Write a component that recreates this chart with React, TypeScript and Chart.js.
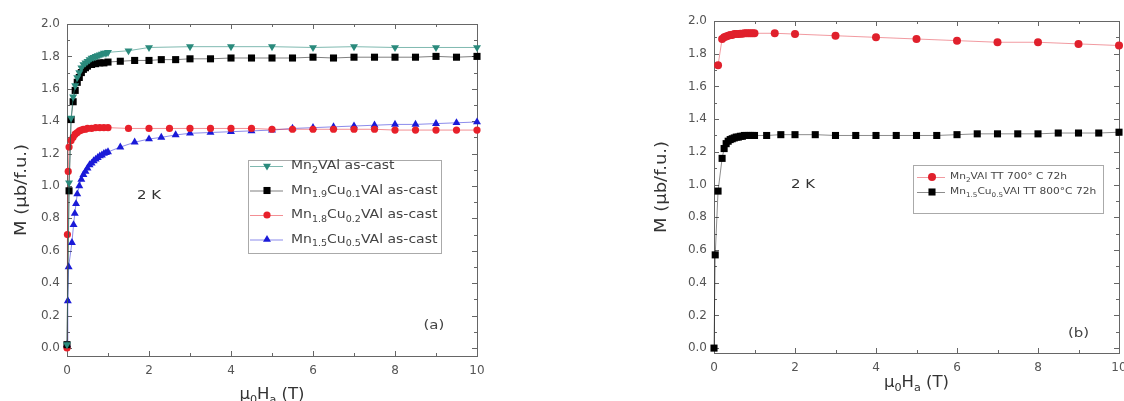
import React, { useEffect, useRef } from "react";
import { Chart, registerables } from "chart.js";
Chart.register(...registerables);

// ---------- Data: panel (a), as-cast ----------
const A_X_MN2 = [0, 0.05, 0.1, 0.15, 0.2, 0.25, 0.3, 0.35, 0.4, 0.45, 0.5, 0.55, 0.6, 0.65, 0.7, 0.75, 0.8, 0.85, 0.9, 0.95, 1.0, 1.5, 2, 3, 4, 5, 6, 7, 8, 9, 10];
const A_Y_MN2 = [0.02, 1.02, 1.42, 1.55, 1.62, 1.67, 1.70, 1.73, 1.75, 1.76, 1.77, 1.78, 1.79, 1.795, 1.80, 1.805, 1.81, 1.815, 1.82, 1.82, 1.825, 1.835, 1.855, 1.86, 1.86, 1.86, 1.855, 1.86, 1.855, 1.855, 1.855];

const A_X_CU01 = [0, 0.05, 0.1, 0.15, 0.2, 0.25, 0.3, 0.35, 0.4, 0.45, 0.5, 0.6, 0.7, 0.8, 0.9, 1.0, 1.3, 1.65, 2, 2.3, 2.65, 3, 3.5, 4, 4.5, 5, 5.5, 6, 6.5, 7, 7.5, 8, 8.5, 9, 9.5, 10];
const A_Y_CU01 = [0.02, 0.97, 1.41, 1.52, 1.59, 1.64, 1.67, 1.70, 1.72, 1.73, 1.74, 1.75, 1.755, 1.76, 1.76, 1.765, 1.77, 1.775, 1.775, 1.78, 1.78, 1.785, 1.785, 1.79, 1.79, 1.79, 1.79, 1.795, 1.79, 1.795, 1.795, 1.795, 1.795, 1.80, 1.795, 1.80];

const A_X_CU02 = [0, 0.01, 0.03, 0.05, 0.1, 0.15, 0.2, 0.25, 0.3, 0.35, 0.4, 0.45, 0.5, 0.6, 0.7, 0.8, 0.9, 1.0, 1.5, 2, 2.5, 3, 3.5, 4, 4.5, 5, 5.5, 6, 6.5, 7, 7.5, 8, 8.5, 9, 9.5, 10];
const A_Y_CU02 = [0.0, 0.70, 1.09, 1.24, 1.28, 1.30, 1.32, 1.33, 1.34, 1.345, 1.35, 1.35, 1.355, 1.355, 1.36, 1.36, 1.36, 1.36, 1.355, 1.355, 1.355, 1.355, 1.355, 1.355, 1.355, 1.35, 1.35, 1.35, 1.35, 1.35, 1.35, 1.345, 1.345, 1.345, 1.345, 1.345];

const A_X_CU05 = [0, 0.02, 0.04, 0.12, 0.16, 0.19, 0.22, 0.25, 0.3, 0.35, 0.4, 0.45, 0.5, 0.55, 0.6, 0.65, 0.7, 0.75, 0.8, 0.85, 0.9, 0.95, 1.0, 1.3, 1.65, 2, 2.3, 2.65, 3, 3.5, 4, 4.5, 5, 5.5, 6, 6.5, 7, 7.5, 8, 8.5, 9, 9.5, 10];
const A_Y_CU05 = [0.02, 0.29, 0.50, 0.65, 0.76, 0.83, 0.89, 0.95, 1.0, 1.04, 1.07, 1.09, 1.11, 1.13, 1.14, 1.155, 1.165, 1.175, 1.185, 1.19, 1.20, 1.205, 1.21, 1.24, 1.27, 1.29, 1.30, 1.315, 1.325, 1.33, 1.335, 1.34, 1.345, 1.355, 1.36, 1.365, 1.37, 1.375, 1.38, 1.38, 1.385, 1.39, 1.395];

// ---------- Data: panel (b), heat treated ----------
const B_X_MN2 = [0.1, 0.2, 0.25, 0.3, 0.35, 0.4, 0.45, 0.5, 0.55, 0.6, 0.65, 0.7, 0.75, 0.8, 0.85, 0.9, 0.95, 1.0, 1.5, 2, 3, 4, 5, 6, 7, 8, 9, 10];
const B_Y_MN2 = [1.73, 1.89, 1.90, 1.905, 1.91, 1.915, 1.915, 1.92, 1.92, 1.92, 1.922, 1.922, 1.925, 1.925, 1.925, 1.925, 1.925, 1.925, 1.925, 1.92, 1.91, 1.90, 1.89, 1.88, 1.87, 1.87, 1.86, 1.85];

const B_X_CU05 = [0, 0.03, 0.1, 0.2, 0.25, 0.3, 0.35, 0.4, 0.45, 0.5, 0.55, 0.6, 0.65, 0.7, 0.75, 0.8, 0.85, 0.9, 0.95, 1.0, 1.3, 1.65, 2, 2.5, 3, 3.5, 4, 4.5, 5, 5.5, 6, 6.5, 7, 7.5, 8, 8.5, 9, 9.5, 10];
const B_Y_CU05 = [0.0, 0.57, 0.96, 1.16, 1.22, 1.25, 1.265, 1.275, 1.28, 1.285, 1.29, 1.29, 1.295, 1.295, 1.3, 1.3, 1.3, 1.3, 1.3, 1.3, 1.3, 1.305, 1.305, 1.305, 1.30, 1.30, 1.30, 1.30, 1.30, 1.30, 1.305, 1.31, 1.31, 1.31, 1.31, 1.315, 1.315, 1.315, 1.32];

// ---------- Ticks & labels ----------
const X_TICKS = [0, 2, 4, 6, 8, 10];
const X_MINOR = [1, 3, 5, 7, 9];
const Y_TICKS = [0, 0.2, 0.4, 0.6, 0.8, 1.0, 1.2, 1.4, 1.6, 1.8, 2.0];
const Y_MINOR = [0.1, 0.3, 0.5, 0.7, 0.9, 1.1, 1.3, 1.5, 1.7, 1.9];

const A_LABELS = ["Mn_{2}VAl as-cast", "Mn_{1.9}Cu_{0.1}VAl as-cast", "Mn_{1.8}Cu_{0.2}VAl as-cast", "Mn_{1.5}Cu_{0.5}VAl as-cast"];
const B_LABELS = ["Mn_{2}VAl TT 700° C 72h", "Mn_{1.5}Cu_{0.5}VAl TT 800°C 72h"];
const Y_TITLE = "M (μb/f.u.)";
const X_TITLE = "μ_{0}H_{a} (T)";
const TEMP_TEXT = "2 K";

const FONT = "'DejaVu Sans', 'Liberation Sans', sans-serif";

type Seg = { t: string; sub: boolean };
function parseRich(s: string): Seg[] {
  const out: Seg[] = [];
  const re = /_\{([^}]*)\}/g;
  let last = 0;
  let m: RegExpExecArray | null;
  while ((m = re.exec(s))) {
    if (m.index > last) out.push({ t: s.slice(last, m.index), sub: false });
    out.push({ t: m[1], sub: true });
    last = re.lastIndex;
  }
  if (last < s.length) out.push({ t: s.slice(last), sub: false });
  return out;
}

function drawRich(ctx: CanvasRenderingContext2D, s: string, x: number, y: number, size: number, align: "left" | "center", color: string, sx = 1) {
  const segs = parseRich(s);
  const subSize = size * 0.68;
  let total = 0;
  const widths = segs.map((g) => {
    ctx.font = `${g.sub ? subSize : size}px ${FONT}`;
    const w = ctx.measureText(g.t).width;
    total += w;
    return w;
  });
  ctx.save();
  ctx.translate(x, y);
  ctx.scale(sx, 1);
  let cx = align === "center" ? -total / 2 : 0;
  ctx.fillStyle = color;
  ctx.textBaseline = "middle";
  ctx.textAlign = "left";
  segs.forEach((g, i) => {
    ctx.font = `${g.sub ? subSize : size}px ${FONT}`;
    ctx.fillText(g.t, cx, g.sub ? size * 0.38 : 0);
    cx += widths[i];
  });
  ctx.restore();
}

function drawMarker(ctx: CanvasRenderingContext2D, style: string, x: number, y: number, r: number, color: string, rotation = 0) {
  ctx.save();
  ctx.fillStyle = color;
  ctx.beginPath();
  if (style === "circle") {
    ctx.arc(x, y, r, 0, Math.PI * 2);
  } else if (style === "rect") {
    const s = r * Math.SQRT1_2;
    ctx.rect(x - s, y - s, 2 * s, 2 * s);
  } else {
    let rad = (rotation * Math.PI) / 180;
    ctx.moveTo(x + Math.sin(rad) * r, y - Math.cos(rad) * r);
    rad += (2 * Math.PI) / 3;
    ctx.lineTo(x + Math.sin(rad) * r, y - Math.cos(rad) * r);
    rad += (2 * Math.PI) / 3;
    ctx.lineTo(x + Math.sin(rad) * r, y - Math.cos(rad) * r);
    ctx.closePath();
  }
  ctx.fill();
  ctx.restore();
}

type SeriesDef = { label: string; xs: number[]; ys: number[]; color: string; line: string; style: string; radius: number; rotation?: number };

type PanelCfg = {
  left: number;
  width: number;
  areaLeft: number;
  areaRight: number;
  areaTop: number;
  areaBottom: number;
  yMin: number;
  series: SeriesDef[];
  legend: { x: number; y: number; w: number; h: number; first: number; step: number; lineX0: number; lineX1: number; markX: number; textX: number; size: number; sx: number };
  tempPos: [number, number];
  tagPos: [number, number];
  tag: string;
  yTitleX: number;
  xTitleY: number;
};

function makeDeco(cfg: PanelCfg) {
  return {
    id: "deco",
    beforeDatasetsDraw(chart: any) {
      const ctx: CanvasRenderingContext2D = chart.ctx;
      const { left, right, top, bottom } = chart.chartArea;
      const xs = chart.scales.x;
      const ys = chart.scales.y;
      ctx.save();
      ctx.strokeStyle = "#666";
      ctx.lineWidth = 1;
      ctx.strokeRect(Math.round(left) + 0.5, Math.round(top) + 0.5, Math.round(right - left), Math.round(bottom - top));
      ctx.beginPath();
      const xt = (v: number, len: number) => {
        const p = Math.round(xs.getPixelForValue(v)) + 0.5;
        ctx.moveTo(p, bottom);
        ctx.lineTo(p, bottom - len);
        ctx.moveTo(p, top);
        ctx.lineTo(p, top + len);
      };
      const yt = (v: number, len: number) => {
        const p = Math.round(ys.getPixelForValue(v)) + 0.5;
        ctx.moveTo(left, p);
        ctx.lineTo(left + len, p);
        ctx.moveTo(right, p);
        ctx.lineTo(right - len, p);
      };
      X_TICKS.forEach((v) => xt(v, 5));
      X_MINOR.forEach((v) => xt(v, 3));
      Y_TICKS.forEach((v) => yt(v, 5));
      Y_MINOR.forEach((v) => yt(v, 3));
      ctx.stroke();
      ctx.restore();
    },
    afterDraw(chart: any) {
      const ctx: CanvasRenderingContext2D = chart.ctx;
      const { left, right, top, bottom } = chart.chartArea;
      const xs = chart.scales.x;
      const ys = chart.scales.y;
      // Legend
      const L = cfg.legend;
      ctx.save();
      ctx.strokeStyle = "#aaa";
      ctx.lineWidth = 1;
      ctx.strokeRect(L.x + 0.5, L.y + 0.5, L.w, L.h);
      cfg.series.forEach((s, i) => {
        const y = L.y + L.first + i * L.step;
        ctx.strokeStyle = s.line;
        ctx.beginPath();
        ctx.moveTo(L.x + L.lineX0, y + 0.5);
        ctx.lineTo(L.x + L.lineX1, y + 0.5);
        ctx.stroke();
        drawMarker(ctx, s.style, L.x + L.markX, y, s.radius, s.color, s.rotation || 0);
        drawRich(ctx, s.label, L.x + L.textX, y, L.size, "left", "#444", L.sx);
      });
      ctx.restore();
      // Annotations
      drawRich(ctx, TEMP_TEXT, xs.getPixelForValue(cfg.tempPos[0]), ys.getPixelForValue(cfg.tempPos[1]), 13, "center", "#333", 1.15);
      drawRich(ctx, cfg.tag, xs.getPixelForValue(cfg.tagPos[0]), ys.getPixelForValue(cfg.tagPos[1]), 13, "center", "#444", 1.15);
      // Axis titles
      drawRich(ctx, X_TITLE, (left + right) / 2, cfg.xTitleY, 15, "center", "#333", 1.1);
      ctx.save();
      ctx.translate(cfg.yTitleX, (top + bottom) / 2);
      ctx.rotate(-Math.PI / 2);
      drawRich(ctx, Y_TITLE, 0, 0, 15, "center", "#333", 1.2);
      ctx.restore();
    },
  };
}

function Panel({ cfg }: { cfg: PanelCfg }) {
  const ref = useRef<HTMLCanvasElement | null>(null);
  useEffect(() => {
    if (!ref.current) return;
    const H = 401;
    const chart = new Chart(ref.current, {
      type: "line",
      data: {
        datasets: cfg.series.map((s) => ({
          label: s.label,
          data: s.xs.map((x, i) => ({ x, y: s.ys[i] })),
          borderColor: s.line,
          backgroundColor: s.color,
          pointBackgroundColor: s.color,
          pointBorderColor: s.color,
          pointBorderWidth: 0,
          borderWidth: 1,
          pointStyle: s.style as any,
          pointRotation: s.rotation || 0,
          pointRadius: s.radius,
          tension: 0,
          clip: false as any,
        })),
      },
      options: {
        responsive: false,
        animation: false,
        events: [],
        layout: { padding: { left: 0, top: cfg.areaTop, right: cfg.width - cfg.areaRight, bottom: 0 } },
        plugins: { legend: { display: false }, tooltip: { enabled: false }, title: { display: false } },
        scales: {
          x: {
            type: "linear",
            min: 0,
            max: 10,
            grid: { display: false, drawTicks: false },
            border: { display: false },
            ticks: { color: "#555", font: { family: FONT, size: 12 }, padding: 8, maxRotation: 0, autoSkip: false, callback: (v: any) => String(v) },
            afterBuildTicks: (s: any) => {
              s.ticks = X_TICKS.map((v) => ({ value: v }));
            },
            afterFit: (s: any) => {
              s.height = H - cfg.areaBottom;
              s.paddingLeft = 0;
              s.paddingRight = 0;
            },
          },
          y: {
            type: "linear",
            min: cfg.yMin,
            max: 2.0,
            grid: { display: false, drawTicks: false },
            border: { display: false },
            ticks: { color: "#555", font: { family: FONT, size: 12 }, padding: 7, autoSkip: false, callback: (v: any) => Number(v).toFixed(1) },
            afterBuildTicks: (s: any) => {
              s.ticks = Y_TICKS.map((v) => ({ value: v }));
            },
            afterFit: (s: any) => {
              s.width = cfg.areaLeft;
              s.paddingTop = 0;
              s.paddingBottom = 0;
            },
          },
        },
      },
      plugins: [makeDeco(cfg)],
    } as any);
    return () => chart.destroy();
  }, [cfg]);
  return (
    <canvas
      ref={ref}
      width={cfg.width}
      height={401}
      style={{ position: "absolute", left: cfg.left, top: 0, width: cfg.width, height: 401, display: "block" }}
    />
  );
}

const PANEL_A: PanelCfg = {
  left: 0,
  width: 560,
  areaLeft: 67,
  areaRight: 477,
  areaTop: 24,
  areaBottom: 356,
  yMin: -0.05,
  series: [
    { label: A_LABELS[0], xs: A_X_MN2, ys: A_Y_MN2, color: "#2a8a7c", line: "rgba(42,138,124,0.6)", style: "triangle", radius: 4.6, rotation: 180 },
    { label: A_LABELS[1], xs: A_X_CU01, ys: A_Y_CU01, color: "#000000", line: "rgba(0,0,0,0.5)", style: "rect", radius: 5 },
    { label: A_LABELS[2], xs: A_X_CU02, ys: A_Y_CU02, color: "#e8202a", line: "rgba(232,32,42,0.5)", style: "circle", radius: 3.6 },
    { label: A_LABELS[3], xs: A_X_CU05, ys: A_Y_CU05, color: "#1a1ad8", line: "rgba(26,26,216,0.5)", style: "triangle", radius: 4.6 },
  ],
  legend: { x: 248, y: 160, w: 193, h: 93, first: 6, step: 24.5, lineX0: 2, lineX1: 35, markX: 19, textX: 43, size: 12.5, sx: 1.12 },
  tempPos: [2.0, 0.94],
  tagPos: [8.95, 0.14],
  tag: "(a)",
  yTitleX: 22,
  xTitleY: 395,
};

const PANEL_B: PanelCfg = {
  left: 560,
  width: 564,
  areaLeft: 154,
  areaRight: 560,
  areaTop: 21,
  areaBottom: 353,
  yMin: -0.03,
  series: [
    { label: B_LABELS[0], xs: B_X_MN2, ys: B_Y_MN2, color: "#e0202c", line: "rgba(224,32,44,0.45)", style: "circle", radius: 4 },
    { label: B_LABELS[1], xs: B_X_CU05, ys: B_Y_CU05, color: "#000000", line: "rgba(0,0,0,0.45)", style: "rect", radius: 5 },
  ],
  legend: { x: 353, y: 165, w: 190, h: 48, first: 12, step: 15, lineX0: 4, lineX1: 32, markX: 19, textX: 37, size: 9.5, sx: 1.12 },
  tempPos: [2.2, 1.0],
  tagPos: [9.0, 0.09],
  tag: "(b)",
  yTitleX: 102,
  xTitleY: 383,
};

export default function App() {
  return (
    <div style={{ position: "absolute", left: 0, top: 0, width: 1124, height: 401, background: "#fff", overflow: "hidden" }}>
      <Panel cfg={PANEL_A} />
      <Panel cfg={PANEL_B} />
    </div>
  );
}
